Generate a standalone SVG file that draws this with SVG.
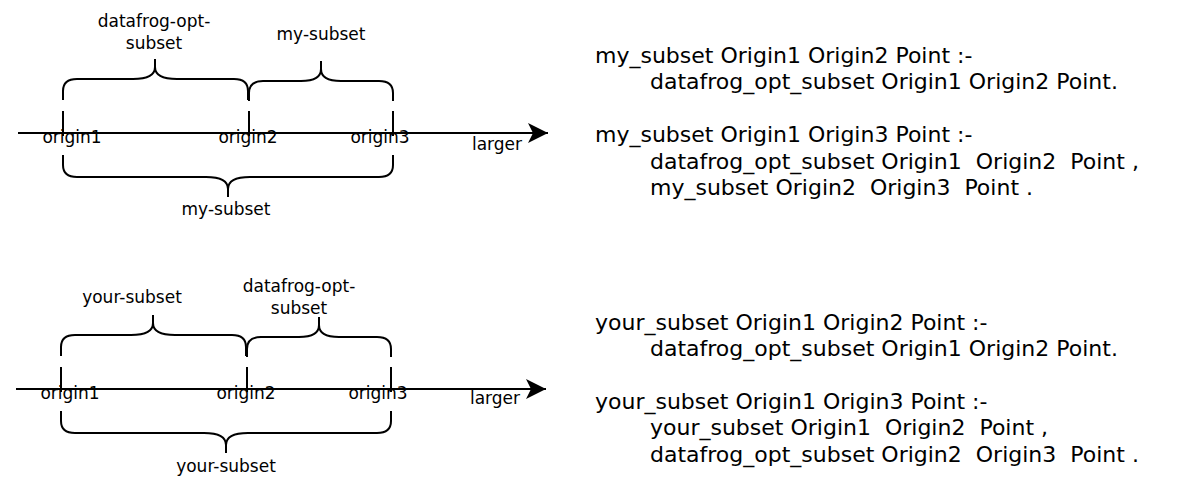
<svg xmlns="http://www.w3.org/2000/svg" width="1186" height="500" viewBox="0 0 1186 500">
<defs>
<style>
.ln{fill:none;stroke:#000;stroke-width:2}
.br{fill:none;stroke:#000;stroke-width:2}
.lb{font-family:"DejaVu Sans",sans-serif;font-size:17px;fill:#000;text-anchor:middle}
.cd{font-family:"DejaVu Sans",sans-serif;font-size:22px;fill:#000;white-space:pre}
</style>
<marker id="ah" markerWidth="24" markerHeight="24" viewBox="0 0 24 24" refX="21" refY="12" orient="auto" markerUnits="userSpaceOnUse">
<path d="M1,2 L21,12 L1,22 L6,12 Z" fill="#000"/>
</marker>
</defs>
<rect width="1186" height="500" fill="#fff"/>
<g id="connectors">
<line class="ln" x1="18" y1="133" x2="548" y2="133" marker-end="url(#ah)"/>
<line class="ln" x1="16" y1="389" x2="546" y2="389" marker-end="url(#ah)"/>
</g>
<g id="top-axis">
<line class="ln" x1="63" y1="111" x2="63" y2="136"/>
<line class="ln" x1="249" y1="111" x2="249" y2="136"/>
<line class="ln" x1="393" y1="111" x2="393" y2="136"/>
<text class="lb" x="72" y="143">origin1</text>
<text class="lb" x="248" y="143">origin2</text>
<text class="lb" x="380" y="143">origin3</text>
<text class="lb" x="497" y="150">larger</text>
</g>
<g id="top-brace-left">
<path class="br" d="M63,100 V91 Q63,79 77,79 H133 Q155,79 155,67 V59 M155,67 Q155,79 177,79 H234 Q248,79 248,91 V100"/>
<text class="lb" x="154" y="27">datafrog-opt-</text>
<text class="lb" x="154" y="49">subset</text>
</g>
<g id="top-brace-right">
<path class="br" d="M249,101 V93 Q249,81 263,81 H301 Q321,81 321,69 V61 M321,69 Q321,81 341,81 H379 Q393,81 393,93 V101"/>
<text class="lb" x="321" y="40">my-subset</text>
</g>
<g id="top-brace-bottom">
<path class="br" d="M63,155 V165 Q63,177 77,177 H206 Q228,177 228,189 V197 M228,189 Q228,177 250,177 H379 Q393,177 393,165 V155"/>
<text class="lb" x="226" y="215">my-subset</text>
</g>
<g id="bottom-axis">
<line class="ln" x1="61" y1="367" x2="61" y2="392"/>
<line class="ln" x1="247" y1="367" x2="247" y2="392"/>
<line class="ln" x1="391" y1="367" x2="391" y2="392"/>
<text class="lb" x="70" y="399">origin1</text>
<text class="lb" x="246" y="399">origin2</text>
<text class="lb" x="378" y="399">origin3</text>
<text class="lb" x="495" y="404">larger</text>
</g>
<g id="bottom-brace-left">
<path class="br" d="M61,356 V347 Q61,335 75,335 H131 Q153,335 153,323 V315 M153,323 Q153,335 175,335 H232 Q246,335 246,347 V356"/>
<text class="lb" x="132" y="303">your-subset</text>
</g>
<g id="bottom-brace-right">
<path class="br" d="M247,357 V349 Q247,337 261,337 H299 Q319,337 319,325 V317 M319,325 Q319,337 339,337 H377 Q391,337 391,349 V357"/>
<text class="lb" x="299" y="292">datafrog-opt-</text>
<text class="lb" x="299" y="314">subset</text>
</g>
<g id="bottom-brace-bottom">
<path class="br" d="M61,411 V421 Q61,433 75,433 H204 Q226,433 226,445 V453 M226,445 Q226,433 248,433 H377 Q391,433 391,421 V411"/>
<text class="lb" x="226" y="472">your-subset</text>
</g>
<g id="rules-top">
<text class="cd" x="595" y="63">my_subset Origin1 Origin2 Point :-</text>
<text class="cd" x="650" y="89">datafrog_opt_subset Origin1 Origin2 Point.</text>
<text class="cd" x="595" y="142">my_subset Origin1 Origin3 Point :-</text>
<text class="cd" x="650" y="169">datafrog_opt_subset Origin1  Origin2  Point ,</text>
<text class="cd" x="650" y="195">my_subset Origin2  Origin3  Point .</text>
</g>
<g id="rules-bottom">
<text class="cd" x="595" y="330">your_subset Origin1 Origin2 Point :-</text>
<text class="cd" x="650" y="356">datafrog_opt_subset Origin1 Origin2 Point.</text>
<text class="cd" x="595" y="409">your_subset Origin1 Origin3 Point :-</text>
<text class="cd" x="650" y="435">your_subset Origin1  Origin2  Point ,</text>
<text class="cd" x="650" y="462">datafrog_opt_subset Origin2  Origin3  Point .</text>
</g>
</svg>
